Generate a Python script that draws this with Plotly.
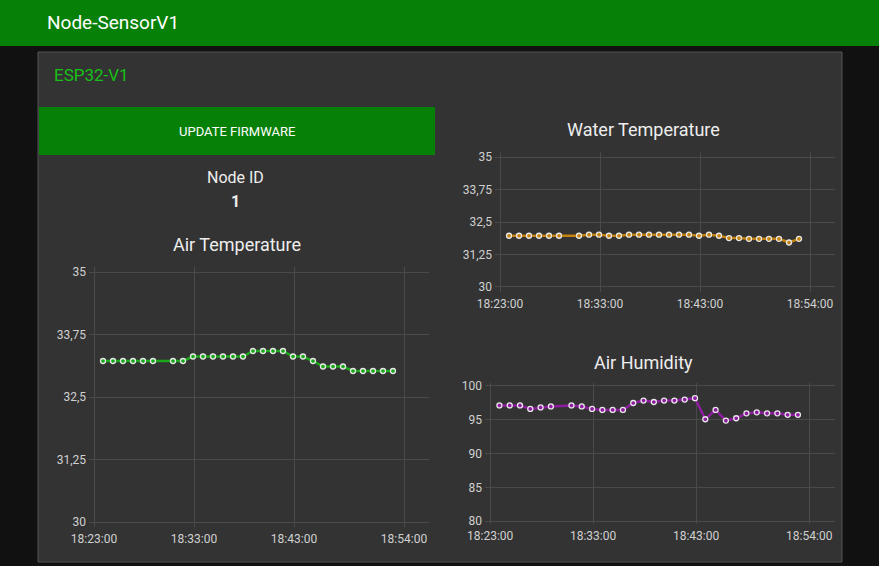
import plotly.graph_objects as go

# sample times (one reading per minute, one missing at 18:29:54)
times = ["18:23:54", "18:24:54", "18:25:54", "18:26:54", "18:27:54", "18:28:54",
         "18:30:54", "18:31:54", "18:32:54", "18:33:54", "18:34:54", "18:35:54",
         "18:36:54", "18:37:54", "18:38:54", "18:39:54", "18:40:54", "18:41:54",
         "18:42:54", "18:43:54", "18:44:54", "18:45:54", "18:46:54", "18:47:54",
         "18:48:54", "18:49:54", "18:50:54", "18:51:54", "18:52:54"]
air_temp = [33.22, 33.22, 33.22, 33.22, 33.22, 33.22, 33.22, 33.22, 33.31, 33.31,
            33.31, 33.31, 33.31, 33.31, 33.42, 33.42, 33.42, 33.42, 33.31, 33.31,
            33.22, 33.11, 33.11, 33.11, 33.02, 33.02, 33.02, 33.02, 33.02]
water_temp = [31.97, 31.97, 31.97, 31.97, 31.97, 31.97, 31.97, 32.01, 32.01, 31.97,
              31.97, 32.01, 32.01, 32.01, 32.01, 32.01, 32.01, 32.01, 31.97, 32.01,
              31.97, 31.88, 31.88, 31.85, 31.85, 31.85, 31.85, 31.71, 31.85]
air_hum = [97.09, 97.09, 97.09, 96.58, 96.79, 96.94, 97.09, 96.94, 96.58, 96.43,
           96.43, 96.43, 97.45, 97.81, 97.60, 97.81, 97.81, 97.96, 98.16, 95.05,
           96.43, 94.85, 95.20, 95.92, 96.07, 95.92, 95.92, 95.71, 95.71]
x_ticks = ["18:23:00", "18:33:00", "18:43:00", "18:54:00"]

day = "2024-01-01 "
xs = [day + t for t in times]
xt = [day + t for t in x_ticks]
x_range = [day + "18:22:30", day + "18:56:30"]

W, H = 879, 566
def fx(px): return px / W
def fy(py): return 1 - py / H

fig = go.Figure()

charts = [
    # name, values, color, axis suffix, (left, right, top, bottom) px, y range, ticks, title pos
    ("Air Temperature", air_temp, "#1aa81a", "", (89, 429, 267, 527), [29.9, 35.1],
     [30, 31.25, 32.5, 33.75, 35], (237, 245)),
    ("Water Temperature", water_temp, "#c4820e", "2", (495, 835, 152, 292), [29.8, 35.2],
     [30, 31.25, 32.5, 33.75, 35], (643, 130)),
    ("Air Humidity", air_hum, "#8e1ca0", "3", (485, 835, 383, 524), [79.6, 100.4],
     [80, 85, 90, 95, 100], (643, 362)),
]

for name, vals, col, sfx, (l, r, t, b), yr, yt, (cx, ty) in charts:
    fig.add_trace(go.Scatter(
        x=xs, y=vals, mode="lines+markers", xaxis="x" + sfx, yaxis="y" + sfx,
        line=dict(color=col, width=2.5),
        marker=dict(size=5, color=col, line=dict(color="#e8e8e8", width=1.3)),
        showlegend=False))
    ax = dict(domain=[fx(l), fx(r)], range=x_range, tickvals=xt, ticktext=x_ticks,
              showgrid=True, gridcolor="#4a4a4a", zeroline=False, showline=False,
              tickfont=dict(color="#d0d0d0", size=12), anchor="y" + sfx, ticks="",
              ticklabelstandoff=3)
    ay = dict(domain=[fy(b), fy(t)], range=yr, tickvals=yt,
              showgrid=True, gridcolor="#4a4a4a", zeroline=False, showline=False,
              tickfont=dict(color="#d0d0d0", size=12), anchor="x" + sfx, ticks="",
              ticklabelstandoff=2)
    fig.layout["xaxis" + sfx] = ax
    fig.layout["yaxis" + sfx] = ay
    fig.add_annotation(x=fx(cx), y=fy(ty), xref="paper", yref="paper", text=name,
                       showarrow=False, xanchor="center", yanchor="middle",
                       font=dict(size=18, color="#eeeeee"))

shapes = [
    dict(type="rect", x0=0, x1=1, y0=fy(46), y1=1, fillcolor="#078007", line_width=0, layer="below"),
    dict(type="rect", x0=fx(38), x1=fx(842), y0=fy(562), y1=fy(52), fillcolor="#333333",
         line=dict(color="#555555", width=1), layer="below"),
    dict(type="rect", x0=fx(39), x1=fx(435), y0=fy(155), y1=fy(107), fillcolor="#078007",
         line_width=0, layer="below"),
]
for s in shapes:
    s.update(xref="paper", yref="paper")
    fig.add_shape(**s)

texts = [
    ("Node-SensorV1", 45, 22, 19, "#ffffff", "left"),
    ("ESP32-V1", 52, 75, 17, "#17c017", "left"),
    ("UPDATE FIRMWARE", 237, 131, 13, "#ffffff", "center"),
    ("Node ID", 235, 177, 16, "#eeeeee", "center"),
    ("<b>1</b>", 235, 201, 16, "#eeeeee", "center"),
]
for txt, px, py, sz, c, al in texts:
    fig.add_annotation(x=fx(px), y=fy(py), xref="paper", yref="paper", text=txt,
                       showarrow=False, xanchor=al, yanchor="middle", font=dict(size=sz, color=c))

fig.update_layout(width=W, height=H, margin=dict(l=0, r=0, t=0, b=0, autoexpand=False),
                  paper_bgcolor="#111111", plot_bgcolor="#333333",
                  separators=",.", font=dict(family="Roboto"))
fig.write_html("out.html", config={"displayModeBar": False},
               post_script="document.body.style.margin='0';document.body.style.overflow='hidden';")
